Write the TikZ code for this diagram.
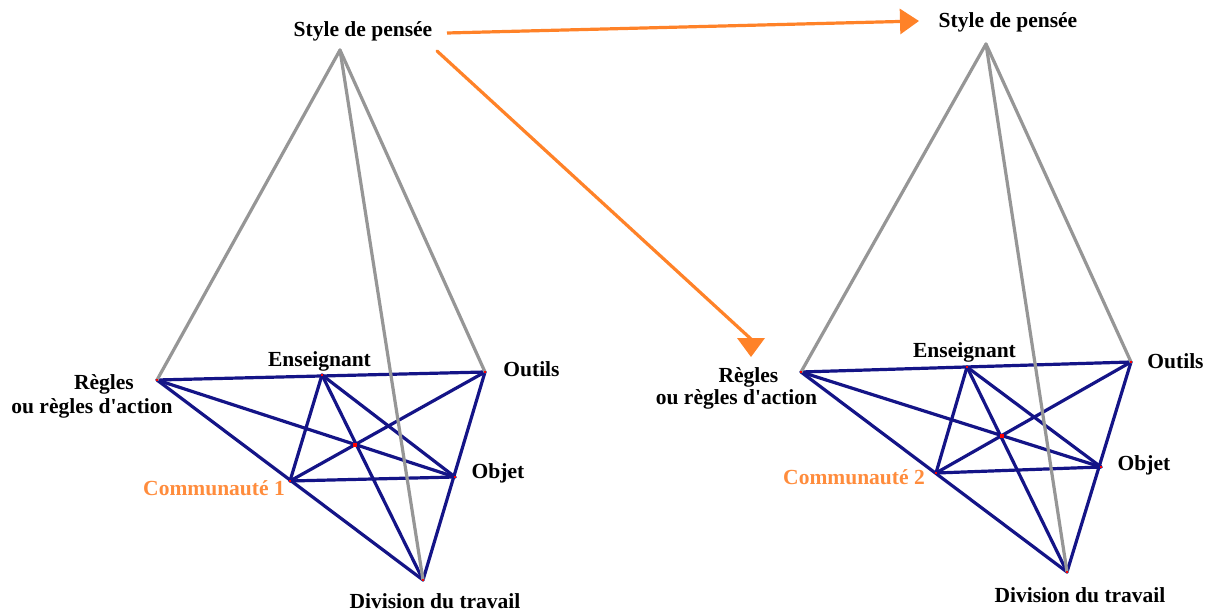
\documentclass[tikz,border=0pt]{standalone}
\usepackage{fontspec}
\setmainfont{Liberation Serif}
\usetikzlibrary{arrows.meta}
\definecolor{navyline}{RGB}{20,20,135}
\definecolor{greyline}{RGB}{150,150,150}
\definecolor{orangeline}{RGB}{255,130,40}
\definecolor{orangetext}{RGB}{255,140,60}
\begin{document}
\begin{tikzpicture}[x=1pt,y=-1pt,
  lab/.style={font=\fontsize{21.5}{25}\selectfont\bfseries, anchor=base, inner sep=0pt, text=black},
  commlab/.style={lab, text=orangetext},
  blueedge/.style={draw=navyline, line width=3.2pt, line cap=round, line join=round},
  greyedge/.style={draw=greyline, line width=3.2pt, line cap=round},
  orangearrow/.style={draw=orangeline, line width=3.2pt},
  reddot/.style={fill=red, draw=none, minimum size=2.5pt, inner sep=0pt, rectangle},
  centerdot/.style={fill=red, draw=none, minimum size=4pt, inner sep=0pt, rectangle}
]
\useasboundingbox (0,0) rectangle (1210,612);
\fill[white] (0,0) rectangle (1210,612);

% ---------- left tetrahedron vertices ----------
\coordinate (S1) at (340,50);
\coordinate (R1) at (157,380);
\coordinate (O1) at (485,372);
\coordinate (E1) at (322,375);
\coordinate (C1) at (290,481);
\coordinate (Ob1) at (455,477);
\coordinate (D1) at (423,580);
\coordinate (X1) at (intersection of R1--Ob1 and C1--O1);

% ---------- right tetrahedron vertices ----------
\coordinate (S2) at (986,44);
\coordinate (R2) at (801,372);
\coordinate (O2) at (1131,362);
\coordinate (E2) at (967,367);
\coordinate (C2) at (936,473);
\coordinate (Ob2) at (1101,467);
\coordinate (D2) at (1067,572);
\coordinate (X2) at (intersection of R2--Ob2 and C2--O2);

% ---------- blue edges ----------
\foreach \i in {1,2}{
  \draw[blueedge] (R\i) -- (O\i);
  \draw[blueedge] (R\i) -- (D\i);
  \draw[blueedge] (O\i) -- (D\i);
  \draw[blueedge] (R\i) -- (Ob\i);
  \draw[blueedge] (C\i) -- (O\i);
  \draw[blueedge] (C\i) -- (Ob\i);
  \draw[blueedge] (E\i) -- (C\i);
  \draw[blueedge] (E\i) -- (Ob\i);
  \draw[blueedge] (E\i) -- (D\i);
}

% ---------- grey edges ----------
\foreach \i in {1,2}{
  \draw[greyedge] (S\i) -- (R\i);
  \draw[greyedge] (S\i) -- (O\i);
  \draw[greyedge] (S\i) -- (D\i);
}

% ---------- red points ----------
\foreach \i in {1,2}{
  \foreach \p in {R,O,E,C,Ob,D}{
    \node[reddot] at (\p\i) {};
  }
  \node[centerdot] (M\i) at (X\i) {};
}

% ---------- labels left ----------
\node[lab] (st1) at (363,37) {Style de pensée};
\node[lab] (rg1) at (104,389) {Règles};
\node[lab] (ra1) at (92,413) {ou règles d\textquotesingle action};
\node[lab] (en1) at (319.5,366) {Enseignant};
\node[lab] (ou1) at (531.5,376) {Outils};
\node[lab] (ob1) at (498,478) {Objet};
\node[commlab] (co1) at (214,495) {Communauté 1};
\node[lab] (dv1) at (435,608) {Division du travail};

% ---------- labels right ----------
\node[lab] (st2) at (1008,28) {Style de pensée};
\node[lab] (rg2) at (748.5,382) {Règles};
\node[lab] (ra2) at (736.5,404) {ou règles d\textquotesingle action};
\node[lab] (en2) at (964.5,357) {Enseignant};
\node[lab] (ou2) at (1175.5,368) {Outils};
\node[lab] (ob2) at (1144,470) {Objet};
\node[commlab] (co2) at (854,484) {Communauté 2};
\node[lab] (dv2) at (1080,602) {Division du travail};

% ---------- orange arrows ----------
\coordinate (A1) at (447,33);
\coordinate (B1) at (919,21);
\draw[orangearrow, -{Triangle[length=19pt,width=25pt]}] (A1) -- (B1);

\coordinate (A2) at (437,51);
\coordinate (H2) at (751,339);
\draw[orangearrow, line cap=round] (A2) -- (H2);
\fill[orangeline] (H2) ++(-14,-1) -- ++(28,0) -- ++(-14,19) -- cycle;
\end{tikzpicture}
\end{document}
